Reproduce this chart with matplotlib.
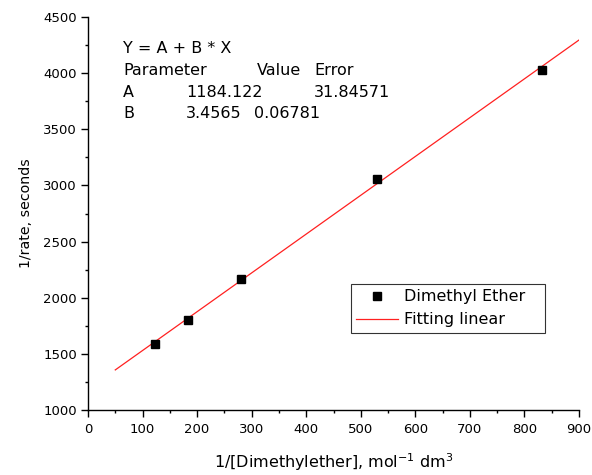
import matplotlib
matplotlib.use("Agg")
import matplotlib.pyplot as plt
import numpy as np
from matplotlib.ticker import MultipleLocator

plt.rcParams['font.family'] = ['DejaVu Sans']
plt.rcParams['mathtext.fontset'] = 'dejavusans'

# Data
x_vals = [122, 183, 281, 529, 833]
y_vals = [1590, 1805, 2165, 3060, 4030]
fit_A = 1184.122
fit_B = 3.4565
fit_x = [50, 900]
fit_y = [fit_A + fit_B * v for v in fit_x]

table_lines = [
    [("Y = A + B * X", 123)],
    [("Parameter", 123), ("Value", 257), ("Error", 314)],
    [("A", 123), ("1184.122", 186), ("31.84571", 314)],
    [("B", 123), ("3.4565", 186), ("0.06781", 254)],
]
table_baselines = [53, 75, 97, 118]

W, H = 592, 475
fig = plt.figure(figsize=(W / 100, H / 100), dpi=100)
ax = fig.add_axes([88 / W, 1 - 410 / H, (579 - 88) / W, (410 - 17) / H])

ax.plot(x_vals, y_vals, linestyle='none', marker='s', color='black', ms=5.8,
        label='Dimethyl Ether', zorder=3)
ax.plot(fit_x, fit_y, color='#ff2020', lw=0.9, label='Fitting linear', zorder=2)

ax.set_xlim(0, 900)
ax.set_ylim(1000, 4500)
ax.xaxis.set_major_locator(MultipleLocator(100))
ax.xaxis.set_minor_locator(MultipleLocator(50))
ax.yaxis.set_major_locator(MultipleLocator(500))
ax.yaxis.set_minor_locator(MultipleLocator(250))
for s in ['top', 'right']:
    ax.spines[s].set_visible(False)
for s in ['left', 'bottom']:
    ax.spines[s].set_linewidth(1.0)
ax.tick_params(which='major', direction='out', length=5, width=1.0, labelsize=9.5, pad=3)
ax.tick_params(axis='x', which='major', pad=4.5)
ax.tick_params(which='minor', direction='out', length=2.5, width=1.0)

ax.set_xlabel(r'1/[Dimethylether], mol$^{\mathregular{-1}}$ dm$^{\mathregular{3}}$', fontsize=11.5)
ax.xaxis.set_label_coords(0.5, -(451 - 410) / 393)
ax.set_ylabel('1/rate, seconds', fontsize=10.2)
ax.yaxis.set_label_coords(-(88 - 33) / 491, 0.5)

for line, yb in zip(table_lines, table_baselines):
    for txt, xp in line:
        fig.text(xp / W, 1 - yb / H, txt, fontsize=11.5, va='baseline', ha='left')

leg = ax.legend(loc='upper left',
                bbox_to_anchor=(351 / W, 1 - 333 / H, 194 / W, 49 / H),
                bbox_transform=fig.transFigure, mode='expand', borderaxespad=0,
                fancybox=False, frameon=True, fontsize=11.5, numpoints=1,
                handlelength=2.6, borderpad=0.34, labelspacing=0.48,
                handletextpad=0.35)
leg.get_frame().set_edgecolor('black')
leg.get_frame().set_linewidth(0.8)

fig.savefig('out.png', dpi=100)
